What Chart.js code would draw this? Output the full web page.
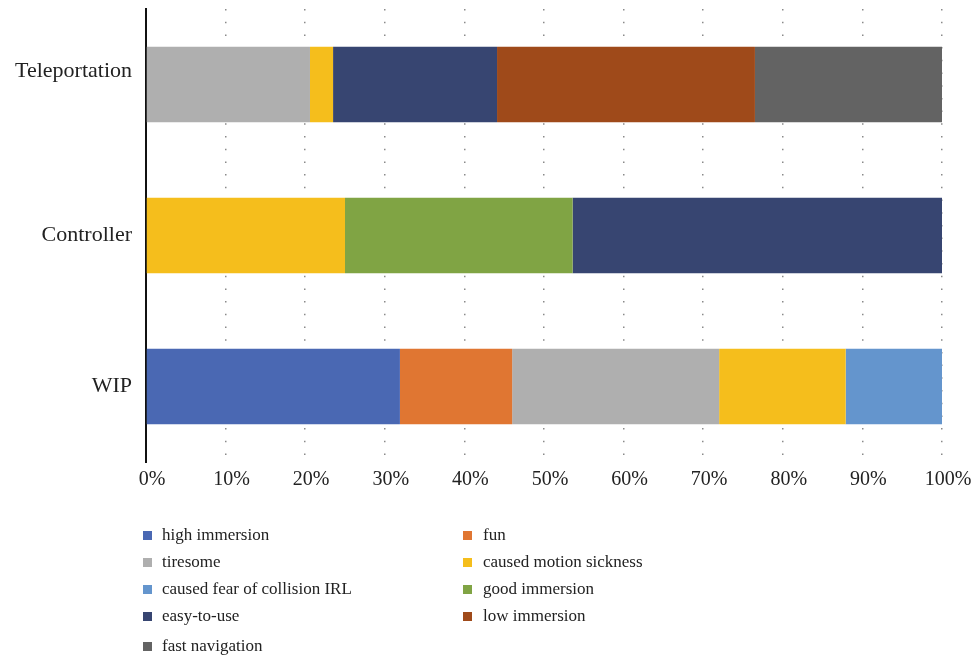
<!DOCTYPE html>
<html>
<head>
<meta charset="utf-8">
<script src="https://cdn.jsdelivr.net/npm/chart.js@4"></script>
<style>
  body { margin: 0; background: #fff; }
  #wrap { position: relative; width: 977px; height: 660px; }
  #chartCanvas { position: absolute; left: 0; top: 0; }
  #legend { position: absolute; left: 0; top: 0; width: 977px; height: 660px; pointer-events: none;
            font-family: "Liberation Serif", "DejaVu Serif", serif; font-size: 17px; color: #222; }
  .item { position: absolute; white-space: nowrap; line-height: 20px; }
  .box { position: absolute; width: 9px; height: 9px; top: 6px; }
  .txt { position: absolute; top: 0; }
</style>
</head>
<body>
<div id="wrap">
  <canvas id="chartCanvas" width="977" height="500"></canvas>
  <div id="legend"></div>
</div>
<script>
// categorias (de cima para baixo)
const categories = ['Teleportation', 'Controller', 'WIP'];

// percentuais por série: [Teleportation, Controller, WIP]
const highImmersion   = [null, null, 31.9];
const fun             = [null, null, 14.1];
const tiresome        = [20.6, null, 26.0];
const motionSickness  = [2.9, 25.0, 15.9];
const fearOfCollision = [null, null, 12.1];
const goodImmersion   = [null, 28.6, null];
const easyToUse       = [20.6, 46.4, null];
const lowImmersion    = [32.4, null, null];
const fastNavigation  = [23.5, null, null];

const xTicks = [0, 10, 20, 30, 40, 50, 60, 70, 80, 90, 100];

const seriesNames = ['high immersion', 'fun', 'tiresome', 'caused motion sickness',
  'caused fear of collision IRL', 'good immersion', 'easy-to-use', 'low immersion', 'fast navigation'];
const seriesData = [highImmersion, fun, tiresome, motionSickness, fearOfCollision,
  goodImmersion, easyToUse, lowImmersion, fastNavigation];
const seriesColors = ['#4A68B3', '#E07632', '#AFAFAF', '#F5BE1C', '#6495CD',
  '#80A444', '#374571', '#9F4A1A', '#636363'];

const serif = '"Liberation Serif", "DejaVu Serif", serif';

const ctx = document.getElementById('chartCanvas').getContext('2d');
const chart = new Chart(ctx, {
  type: 'bar',
  data: {
    labels: categories,
    datasets: seriesNames.map((name, i) => ({
      label: name,
      data: seriesData[i],
      backgroundColor: seriesColors[i],
      borderWidth: 0,
      barPercentage: 0.5,
      categoryPercentage: 1.0
    }))
  },
  options: {
    indexAxis: 'y',
    responsive: false,
    animation: false,
    layout: { padding: { top: 9, right: 35, left: 0, bottom: 0 } },
    plugins: { legend: { display: false }, tooltip: { enabled: false } },
    scales: {
      x: {
        stacked: true,
        min: 0,
        max: 100,
        afterBuildTicks: (scale) => { scale.ticks = xTicks.map(v => ({ value: v })); },
        afterFit: (scale) => { scale.height = 38; },
        grid: { display: true, color: '#8a8a8a', lineWidth: 1.5, drawTicks: false },
        border: { display: false, dash: [1.5, 11.2], dashOffset: 0 },
        ticks: {
          padding: 6,
          labelOffset: 6,
          color: '#222',
          font: { family: serif, size: 20 },
          callback: (v) => v + '%'
        }
      },
      y: {
        stacked: true,
        afterFit: (scale) => {
          scale.width = 146;
          scale.paddingTop = 0;
          scale.paddingBottom = 0;
        },
        grid: { display: false, drawTicks: false },
        border: { display: true, color: '#111', width: 2 },
        ticks: {
          padding: 14,
          color: '#222',
          font: { family: serif, size: 22 },
          // no original o rótulo "Teleportation" fica um pouco acima do centro da barra
          callback: function (v, i) {
            const label = this.getLabelForValue(v);
            return i === 0 ? [label, ''] : label;
          }
        }
      }
    }
  }
});

// legenda em duas colunas
const legend = document.getElementById('legend');
const rowsY = [525, 552, 579, 606, 636];
chart.data.datasets.forEach((ds, i) => {
  const col = i === 8 ? 0 : i % 2;
  const row = Math.floor(i / 2);
  const item = document.createElement('div');
  item.className = 'item';
  item.style.left = (col === 0 ? 143 : 463) + 'px';
  item.style.top = rowsY[row] + 'px';
  const box = document.createElement('span');
  box.className = 'box';
  box.style.left = '0px';
  box.style.background = ds.backgroundColor;
  const txt = document.createElement('span');
  txt.className = 'txt';
  txt.style.left = (col === 0 ? 19 : 20) + 'px';
  txt.textContent = ds.label;
  item.appendChild(box);
  item.appendChild(txt);
  legend.appendChild(item);
});
</script>
</body>
</html>
